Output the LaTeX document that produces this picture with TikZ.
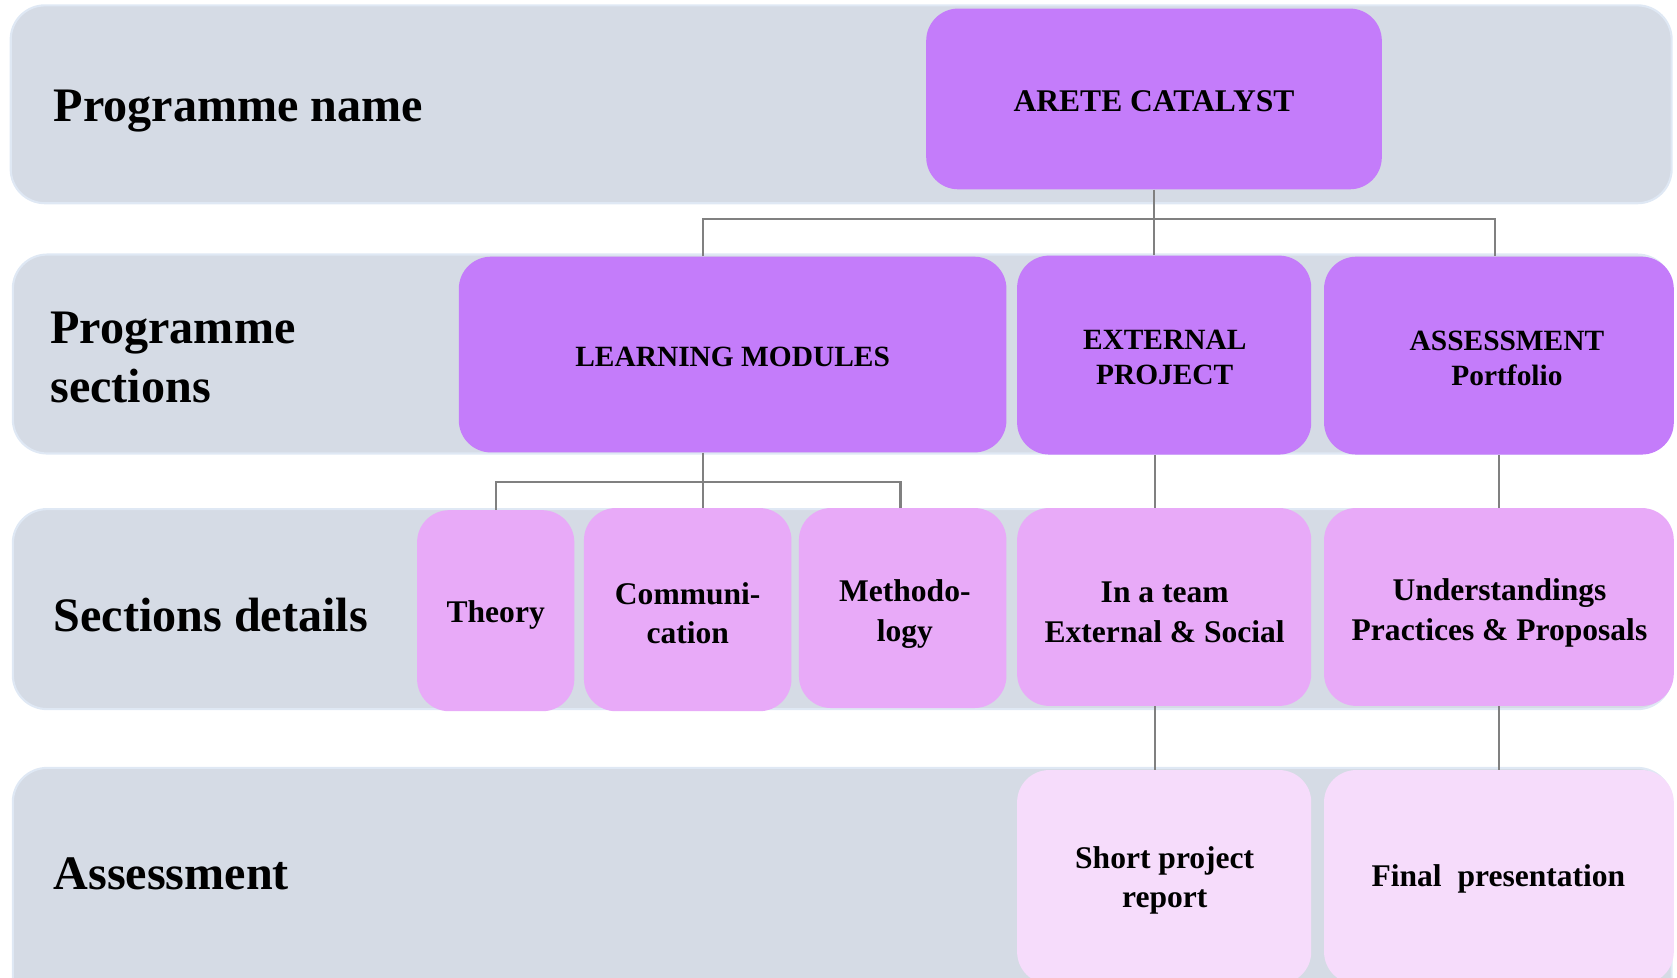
\documentclass[tikz,border=0pt]{standalone}
\usepackage{fontspec}
\setmainfont{Liberation Serif}
\definecolor{bandfill}{HTML}{D5DBE5}
\definecolor{bandline}{HTML}{DFE8F4}
\definecolor{purpleA}{HTML}{C47CFA}
\definecolor{purpleB}{HTML}{E8AAF8}
\definecolor{purpleC}{HTML}{F6DCFB}
\definecolor{linkgray}{HTML}{808080}
\tikzset{
  band/.style={fill=bandfill, draw=bandline, line width=2pt, rounded corners=32pt},
  rowlabel/.style={inner sep=0pt, align=left, font=\fontsize{45}{55}\selectfont\bfseries},
  boxbase/.style={draw=none, rounded corners=30pt, inner sep=0pt},
  boxA/.style={boxbase, fill=purpleA},
  boxB/.style={boxbase, fill=purpleB},
  boxC/.style={boxbase, fill=purpleC},
  txtA/.style={inner sep=0pt, align=center, font=\fontsize{27.5}{33}\selectfont\bfseries},
  txtB/.style={inner sep=0pt, align=center, font=\fontsize{29.5}{37}\selectfont\bfseries},
  link/.style={draw=linkgray, line width=2pt}
}
\begin{document}
\begin{tikzpicture}[x=1pt,y=-1pt]
\useasboundingbox (0,0) rectangle (1568,914);
\clip (0,0) rectangle (1568,914);
% bands
\draw[band] (10,5) rectangle (1563,190);
\draw[band] (12,238) rectangle (1563,424);
\draw[band] (12,476) rectangle (1563,663);
\draw[band] (12,718) rectangle (1563,960);
% row labels
\node[rowlabel, anchor=base west] (l1) at (50,114) {Programme name};
\node[rowlabel, anchor=west] (l2) at (47,334) {Programme\\sections};
\node[rowlabel, anchor=base west] (l3) at (50,590) {Sections details};
\node[rowlabel, anchor=base west] (l4) at (50,832) {Assessment};
% boxes
\node[boxA, minimum width=426pt, minimum height=169pt] (arete) at (1079,92.5) {};
\node[boxA, minimum width=512pt, minimum height=183pt] (lm) at (685,331.5) {};
\node[boxA, minimum width=275pt, minimum height=186pt] (ep) at (1088.5,332) {};
\node[boxA, minimum width=327pt, minimum height=185pt] (ass) at (1401.5,332.5) {};
\node[boxB, minimum width=147pt, minimum height=188pt] (theory) at (463.5,571) {};
\node[boxB, minimum width=194pt, minimum height=190pt] (comm) at (643,570) {};
\node[boxB, minimum width=194pt, minimum height=187pt] (meth) at (844,568.5) {};
\node[boxB, minimum width=275pt, minimum height=185pt] (team) at (1088.5,567.5) {};
\node[boxB, minimum width=327pt, minimum height=185pt] (und) at (1401.5,567.5) {};
\node[boxC, minimum width=275pt, minimum height=200pt] (short) at (1088.5,820) {};
\node[boxC, minimum width=327pt, minimum height=200pt] (final) at (1401.5,820) {};
% box texts
\node[txtA, font=\fontsize{29.5}{35}\selectfont\bfseries] (aretet) at (1079,95) {ARETE CATALYST};
\node[txtA] (lmt) at (685,334) {LEARNING MODULES};
\node[txtA] (ept) at (1089,334.5) {EXTERNAL\\PROJECT};
\node[txtA] (asst) at (1409,335) {ASSESSMENT\\Portfolio};
\node[txtB] (theoryt) at (463.5,575) {Theory};
\node[txtB] (commt) at (643,573.5) {Communi-\\cation};
\node[txtB] (metht) at (846,574) {Methodo-\\logy};
\node[txtB] (teamt) at (1089,572.5) {In a team\\External \& Social};
\node[txtB] (undt) at (1402,573) {Understandings\\Practices \& Proposals};
\node[txtB] (shortt) at (1089,823) {Short project\\report};
\node[txtB] (finalt) at (1401,822) {Final\ \ presentation};
% connectors
\coordinate (j1) at (1079,205);
\coordinate (j2) at (657,451);
\draw[link] (arete.south) -- (j1);
\draw[link] ([xshift=-28pt]lm.north) |- (j1) -| ([xshift=-3.5pt]ass.north);
\draw[link] (j1) -- (ep.north -| j1);
\draw[link] ([xshift=-28pt]lm.south) -- (comm.north -| j2);
\draw[link] (theory.north) |- (j2) -| ([xshift=-2pt]meth.north);
\draw[link] ([xshift=-8.5pt]ep.south) -- ([xshift=-8.5pt]team.north);
\draw[link] (ass.south) -- (und.north);
\draw[link] ([xshift=-8.5pt]team.south) -- ([xshift=-8.5pt]short.north);
\draw[link] (und.south) -- (final.north);
\end{tikzpicture}
\end{document}
